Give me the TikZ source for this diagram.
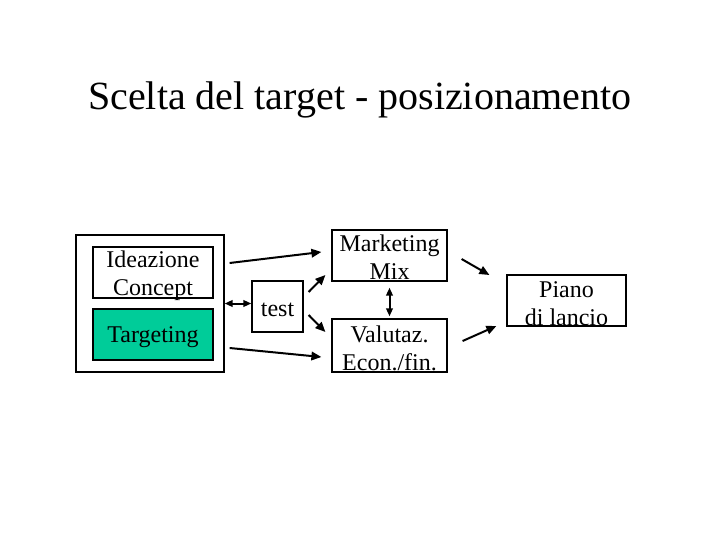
\documentclass[tikz,border=0pt]{standalone}
\usepackage{fontspec}
\setmainfont{Liberation Serif}
\usetikzlibrary{arrows.meta}
\definecolor{targgreen}{RGB}{0,204,153}
\begin{document}
\begin{tikzpicture}[x=1pt,y=-1pt,
  box/.style={draw,line width=1.2pt,inner sep=0pt},
  txt/.style={align=center,inner sep=0pt,yshift=-3pt,font=\fontsize{24}{28}\selectfont},
  arr/.style={line width=2pt,-{Triangle[length=10pt,width=8.5pt]}},
  darr/.style={line width=2pt,{Triangle[length=8pt,width=6.5pt]}-{Triangle[length=8pt,width=6.5pt]}}]
\useasboundingbox (0,0) rectangle (720,540);
\node[anchor=base,inner sep=0pt,font=\fontsize{40}{44}\selectfont] (title) at (360,110) {Scelta del target - posizionamento};
\node[box,minimum width=148pt,minimum height=137pt] (outer) at (150,303.5) {};
\node[box,minimum width=120pt,minimum height=51pt,label={[txt]center:Ideazione\\Concept}] (idea) at (153,272.5) {};
\node[box,fill=targgreen,minimum width=120pt,minimum height=51pt,label={[txt]center:Targeting}] (targ) at (153,334.5) {};
\node[box,minimum width=51pt,minimum height=51pt,label={[txt]center:test}] (test) at (277.5,306.5) {};
\node[box,minimum width=115pt,minimum height=51pt,label={[txt,yshift=1.5pt]center:Marketing\\Mix}] (mm) at (389.5,255.5) {};
\node[box,minimum width=115pt,minimum height=53pt,label={[txt]center:Valutaz.\\Econ./fin.}] (val) at (389.5,345.5) {};
\node[box,minimum width=119pt,minimum height=51pt,label={[txt]center:Piano\\di lancio}] (piano) at (566.5,300.5) {};
\draw[darr] (outer.east) -- (outer.east -| test.west);
\draw[arr] ([shift={(5,-40.5)}]outer.east) -- ([shift={(-10,-3.5)}]mm.west);
\draw[arr] ([shift={(5,44.5)}]outer.east) -- ([shift={(-10,11.5)}]val.west);
\draw[arr] ([shift={(5,-14.5)}]test.east) -- ([shift={(-6,19.5)}]mm.west);
\draw[arr] ([shift={(5,8.5)}]test.east) -- ([shift={(-6,-13.5)}]val.west);
\draw[darr,shorten <=6pt,shorten >=2pt] (mm.south) -- (val.north);
\draw[arr] ([shift={(14,3.5)}]mm.east) -- ([shift={(-17,-25.5)}]piano.west);
\draw[arr] ([shift={(15,-4.5)}]val.east) -- ([shift={(-10,25.5)}]piano.west);
\end{tikzpicture}
\end{document}
